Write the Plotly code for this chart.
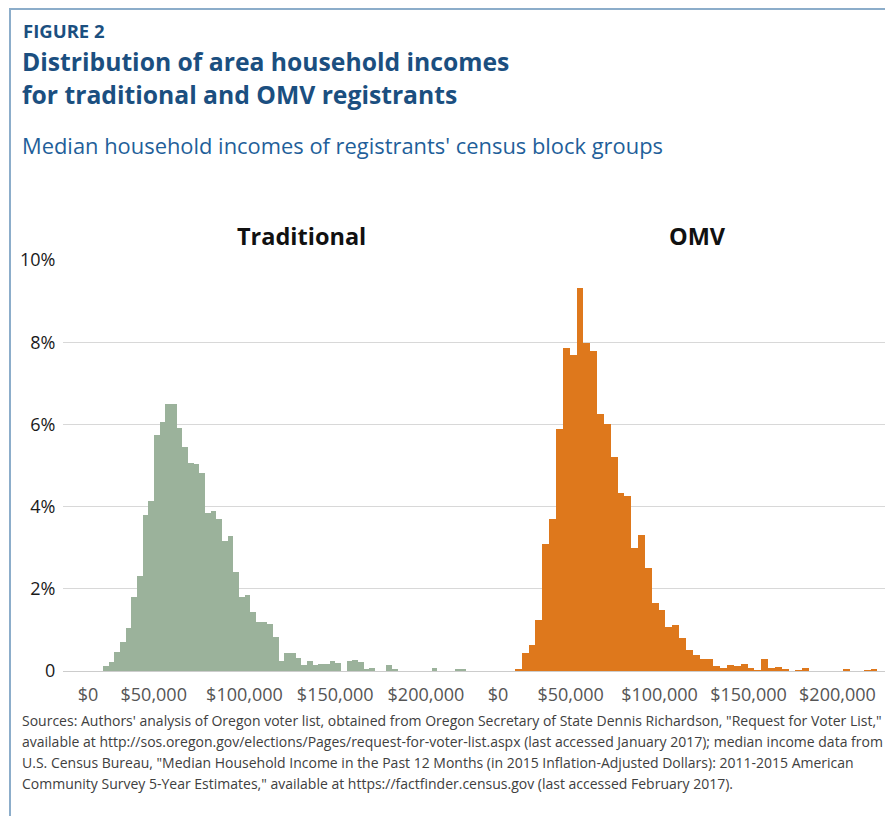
import plotly.graph_objects as go

# ---------------- data ----------------
LEFT_TITLE = "Traditional"
RIGHT_TITLE = "OMV"

# share of registrants (%) per income bin
LEFT_PCT = [0.13, 0.23, 0.47, 0.71, 1.05, 1.80, 2.31, 3.79, 4.13, 5.74,
            6.06, 6.49, 6.49, 5.91, 5.45, 5.06, 5.04, 4.82, 3.85, 3.90,
            3.70, 3.17, 3.29, 2.41, 1.80, 1.85, 1.44, 1.20, 1.20, 1.15,
            0.83, 0.25, 0.45, 0.45, 0.32, 0.15, 0.25, 0.15, 0.18, 0.18,
            0.25, 0.20, 0.00, 0.25, 0.27, 0.22, 0.04, 0.07, 0.00, 0.00,
            0.15, 0.04, 0.00, 0.00, 0.00, 0.00, 0.00, 0.00, 0.07, 0.00,
            0.00, 0.00, 0.04, 0.04]
RIGHT_PCT = [0.05, 0.45, 0.64, 1.25, 3.09, 3.70, 5.88, 7.85, 7.68, 9.31,
             7.98, 7.78, 6.25, 6.01, 5.21, 4.34, 4.27, 3.00, 3.31, 2.51,
             1.66, 1.49, 1.06, 1.13, 0.81, 0.52, 0.40, 0.30, 0.30, 0.13,
             0.08, 0.15, 0.13, 0.18, 0.08, 0.01, 0.28, 0.08, 0.10, 0.04,
             0.00, 0.01, 0.08, 0.00, 0.00, 0.00, 0.00, 0.00, 0.04, 0.00,
             0.00, 0.01, 0.04]

LEFT_BIN_START = 22000     # dollars
LEFT_BIN_WIDTH = 3125
RIGHT_BIN_START = 18700
RIGHT_BIN_WIDTH = 3846

X_TICK_TEXT = ["$0", "$50,000", "$100,000", "$150,000", "$200,000"]
LEFT_TICK_VALS = [13780, 50000, 100000, 150000, 200000]
RIGHT_TICK_VALS = [9170, 50000, 100000, 150000, 200000]

Y_TICK_VALS = [0, 2, 4, 6, 8, 10]
Y_TICK_TEXT = ["0", "2%", "4%", "6%", "8%", "10%"]

FIG_LABEL = "FIGURE 2"
TITLE_LINES = ["Distribution of area household incomes",
               "for traditional and OMV registrants"]
SUBTITLE = "Median household incomes of registrants' census block groups"
SOURCE_LINES = [
    "Sources: Authors' analysis of Oregon voter list, obtained from Oregon Secretary of State Dennis Richardson, \"Request for Voter List,\"",
    "available at http://sos.oregon.gov/elections/Pages/request-for-voter-list.aspx (last accessed January 2017); median income data from",
    "U.S. Census Bureau, \"Median Household Income in the Past 12 Months (in 2015 Inflation-Adjusted Dollars): 2011-2015 American",
    "Community Survey 5-Year Estimates,\" available at https://factfinder.census.gov (last accessed February 2017).",
]

GREEN = "#9bb29b"
ORANGE = "#de781c"
NAVY = "#1b4f80"
BLUE = "#1f5f9a"

# ---------------- layout geometry ----------------
# the page places the figure 8px in from the top-left corner of the window
OFF = 8
WIN_W, WIN_H = 893, 816
W, H = WIN_W - OFF, WIN_H - OFF
PLOT_L, PLOT_R, PLOT_T, PLOT_B = 63, 893, 260, 671   # screen pixels
ML, MR, MT, MB = PLOT_L - OFF, WIN_W - PLOT_R, PLOT_T - OFF, WIN_H - PLOT_B
PW = PLOT_R - PLOT_L
PH = PLOT_B - PLOT_T


def px_x(px):
    return (px - PLOT_L) / PW


def px_y(py):
    return (PLOT_B - py) / PH


def centers(start, width, n):
    return [start + width * (i + 0.5) for i in range(n)]


fig = go.Figure()
fig.add_trace(go.Bar(
    x=centers(LEFT_BIN_START, LEFT_BIN_WIDTH, len(LEFT_PCT)), y=LEFT_PCT,
    width=LEFT_BIN_WIDTH, marker=dict(color=GREEN, line=dict(width=0)),
    xaxis="x", yaxis="y", showlegend=False, name=LEFT_TITLE))
fig.add_trace(go.Bar(
    x=centers(RIGHT_BIN_START, RIGHT_BIN_WIDTH, len(RIGHT_PCT)), y=RIGHT_PCT,
    width=RIGHT_BIN_WIDTH, marker=dict(color=ORANGE, line=dict(width=0)),
    xaxis="x2", yaxis="y2", showlegend=False, name=RIGHT_TITLE))

tickfont_x = dict(family="Open Sans", size=18, color="#555555")
common_x = dict(showgrid=False, zeroline=False, showline=False,
                ticks="outside", ticklen=7, tickcolor="rgba(0,0,0,0)",
                tickfont=tickfont_x, ticktext=X_TICK_TEXT, fixedrange=True)
common_y = dict(range=[0, 10], showgrid=True, gridcolor="#d8d8d8", gridwidth=1,
                zeroline=True, zerolinecolor="#cccccc", zerolinewidth=1,
                showline=False, tickvals=Y_TICK_VALS, ticktext=Y_TICK_TEXT,
                fixedrange=True)

fig.update_layout(
    width=W, height=H,
    margin=dict(l=ML, r=MR, t=MT, b=MB),
    paper_bgcolor="white", plot_bgcolor="white",
    bargap=0,
    xaxis=dict(domain=[0, 0.5], range=[0, 228700], anchor="y",
               tickvals=LEFT_TICK_VALS, **common_x),
    xaxis2=dict(domain=[0.5, 1], range=[-2080, 231263], anchor="y2",
                tickvals=RIGHT_TICK_VALS, **common_x),
    yaxis=dict(anchor="x", ticks="outside", ticklen=3, tickcolor="rgba(0,0,0,0)",
               tickfont=dict(family="Open Sans", size=18, color="#1a1a1a"),
               **common_y),
    yaxis2=dict(anchor="x2", showticklabels=False, **common_y),
    font=dict(family="Open Sans"),
)

ann = []


def text(s, px, py, size, color, bold=False, xanchor="left", family="Open Sans"):
    ann.append(dict(text=("<b>%s</b>" % s) if bold else s,
                    x=px_x(px), y=px_y(py), xref="paper", yref="paper",
                    xanchor=xanchor, yanchor="middle", showarrow=False,
                    font=dict(family=family, size=size, color=color)))


text(FIG_LABEL, 21, 30, 18.5, NAVY, bold=True)
text(TITLE_LINES[0], 20, 62, 24.7, NAVY, bold=True)
text(TITLE_LINES[1], 20, 95, 24.7, NAVY, bold=True)
text(SUBTITLE, 20, 145, 21.9, BLUE)
text(LEFT_TITLE, 301, 236, 23.5, "#111111", bold=True, xanchor="center")
text(RIGHT_TITLE, 697, 236, 23.5, "#111111", bold=True, xanchor="center")
for i, line in enumerate(SOURCE_LINES):
    text(line, 20, 720 + i * 21.3, 14.0, "#404040")

fig.update_layout(annotations=ann)

# figure frame (left and top border)
fig.add_shape(type="rect", xref="paper", yref="paper",
              x0=px_x(10), x1=px_x(WIN_W + 20), y0=px_y(WIN_H + 20), y1=px_y(9),
              line=dict(color="#8cadca", width=2), fillcolor="rgba(0,0,0,0)",
              layer="above")

fig.write_html("out.html")
